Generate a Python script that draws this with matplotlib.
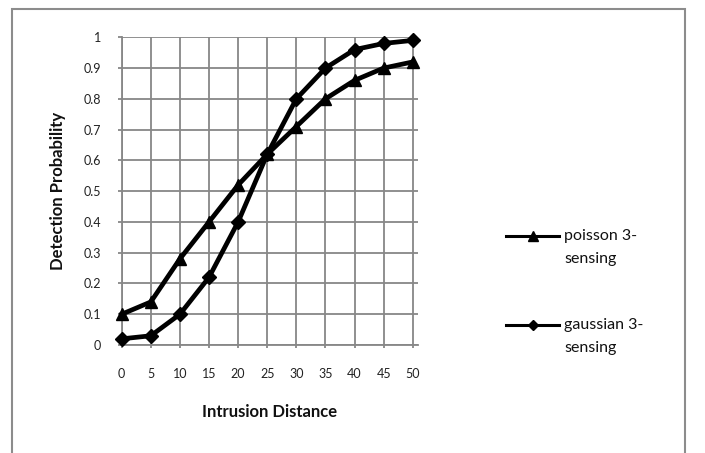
import matplotlib
matplotlib.use("Agg")
import matplotlib.pyplot as plt
from matplotlib.lines import Line2D
from matplotlib.patches import Rectangle

plt.rcParams['font.family'] = ['Lato', 'DejaVu Sans']

distance = [0, 5, 10, 15, 20, 25, 30, 35, 40, 45, 50]
poisson = [0.10, 0.14, 0.28, 0.40, 0.52, 0.62, 0.71, 0.80, 0.86, 0.90, 0.92]
gaussian = [0.02, 0.03, 0.10, 0.22, 0.40, 0.62, 0.80, 0.90, 0.96, 0.98, 0.99]
yticks = [0, 0.1, 0.2, 0.3, 0.4, 0.5, 0.6, 0.7, 0.8, 0.9, 1.0]
ytick_labels = ['0', '0.1', '0.2', '0.3', '0.4', '0.5', '0.6', '0.7', '0.8', '0.9', '1']
series_labels = ['poisson 3-\nsensing', 'gaussian 3-\nsensing']

W, H = 705, 453
fig = plt.figure(figsize=(W / 100, H / 100), dpi=100)

# outer chart border
fig.patches.append(Rectangle((12 / W, -0.05), (685 - 12) / W, 1.05 - 9 / H,
                             transform=fig.transFigure, fill=False,
                             edgecolor='#8c8c8c', linewidth=1.5))

left, right = 121.7, 418
top, bottom = 37.3, 345
ax = fig.add_axes([left / W, 1 - bottom / H, (right - left) / W, (bottom - top) / H])

grid_color = '#878787'
ax.set_xlim(0, 50.9)
ax.set_ylim(0, 1)
ax.set_xticks(distance)
ax.set_xticklabels([str(d) for d in distance])
ax.set_yticks(yticks)
ax.set_yticklabels(ytick_labels)
ax.grid(True, color=grid_color, linewidth=1.3, zorder=0)
ax.set_axisbelow(True)
for s in ['top', 'right']:
    ax.spines[s].set_visible(False)
for s in ['left', 'bottom']:
    ax.spines[s].set_color(grid_color)
    ax.spines[s].set_linewidth(1.3)
ax.tick_params(axis='y', length=3, width=1.3, color=grid_color, pad=12,
               labelsize=9, labelcolor='#222222')
ax.tick_params(axis='x', length=2.5, width=1.3, color=grid_color, pad=14,
               labelsize=9, labelcolor='#222222')

ax.plot(distance, poisson, color='black', linewidth=3.4, marker='^',
        markersize=8.5, clip_on=False, zorder=3)
ax.plot(distance, gaussian, color='black', linewidth=3.4, marker='D',
        markersize=7.5, clip_on=False, zorder=4)

ax.set_ylabel('Detection Probability', fontsize=12, fontweight='bold',
              color='#111111', labelpad=0)
ax.yaxis.set_label_coords((58 - left) / (right - left), 0.5)
ax.set_xlabel('Intrusion Distance', fontsize=12, fontweight='bold',
              color='#111111')
ax.xaxis.set_label_coords(((200 + 339) / 2 - left) / (right - left),
                          -(412 - bottom) / (bottom - top))
ax.xaxis.label.set_va('center')
ax.yaxis.label.set_va('center')

# legend
leg_items = [(236, '^', 6.5), (325, 'D', 5.5)]
for (ly, mk, ms), lab in zip(leg_items, series_labels):
    y = 1 - ly / H
    fig.add_artist(Line2D([506 / W, 559 / W], [y, y], transform=fig.transFigure,
                          color='black', linewidth=2.2))
    fig.add_artist(Line2D([532.5 / W], [y], transform=fig.transFigure,
                          color='black', marker=mk, markersize=ms, linestyle='none'))
    first, second = lab.split('\n')
    fig.text(564 / W, y, first, fontsize=11.5, va='center', ha='left', color='#111111')
    fig.text(564 / W, y - 23 / H, second, fontsize=11.5, va='center', ha='left',
             color='#111111')

fig.savefig('out.png', dpi=100)
